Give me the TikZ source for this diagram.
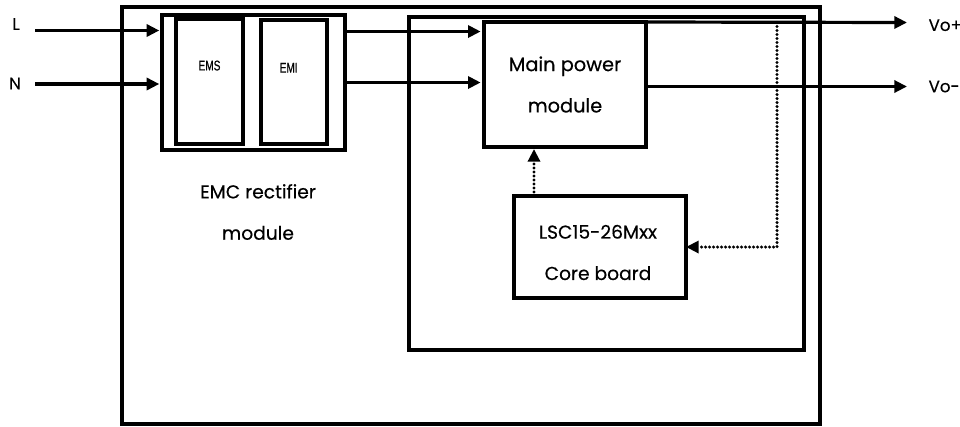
\documentclass[tikz,border=0pt]{standalone}
\usepackage{fontspec}
\setmainfont{Poppins}[FakeBold=0.4]
\newfontfamily\filterfont[FakeStretch=0.72,FakeBold=0.6]{Liberation Sans}
\usetikzlibrary{positioning}
\usetikzlibrary{arrows.meta,calc}

\begin{document}
\begin{tikzpicture}[x=0.75pt,y=-0.75pt,
    line width=2.4pt,
    >={Triangle[length=9.5pt,width=9pt]},
    basic/.style={draw,rectangle,inner sep=0pt,outer sep=0pt},
    block/.style={basic,font=\fontsize{14.5}{31}\selectfont,align=center},
    modtext/.style={inner sep=0pt,font=\fontsize{14}{31}\selectfont,align=center},
    filter/.style={inner sep=0pt,font=\filterfont\fontsize{10.5}{12}\selectfont},
    terminal/.style={inner sep=0pt,font=\fontsize{12.5}{14}\selectfont},
    signal/.style={line width=2.6pt,line cap=round,dash pattern=on 0pt off 3pt},
]
    \useasboundingbox (0,0) rectangle (960,426);
        % housing and the two boards inside it
        \node[basic,minimum width=523.5pt,minimum height=312.75pt] (case) at (471,215.5) {};
        \node[basic,minimum width=296.25pt,minimum height=249.75pt] (board) at (606.5,183.5) {};
        % EMC rectifier module
        \node[basic,minimum width=137.25pt,minimum height=101.25pt] (emc) at (253.5,82.5) {};
            \node[basic,minimum width=50.25pt,minimum height=93.75pt] (ems) at (209.5,81.5) {};
            \node[filter,below=30pt of ems.north] (ems text) {EMS};
            \node[basic,minimum width=49.5pt,minimum height=93pt] (emi) at (294,82) {};
            \node[filter,below=31pt of emi.north,xshift=-4pt] (emi text) {EMI};
        \node[modtext] (emc text) at (258,212) {EMC rectifier\\module};
        % power path
        \node[block,minimum width=121.5pt,minimum height=93.75pt] (main) at (565,84.5) {Main power\\module};
        \node[basic,minimum width=129pt,minimum height=76.5pt] (core) at (600,247) {};
        \node[modtext] (core text) at (598,252.5) {LSC15-26Mxx\\Core board};
%        inputs
        \node[terminal] (L) at (16,24) {L};
        \node[terminal] (N) at (15,83.5) {N};
        \coordinate (l in) at (35,30.5);
        \coordinate (n in) at (35,84);
            \path[draw,->,shorten >=2pt] (l in) -- (emc.west |- l in);
            \path[draw,->,shorten >=2pt] (n in) -- (emc.west |- n in);
            \path[draw,->,shorten >=2.5pt] (emc.east |- 0,31.5) -- (main.west |- 0,31.5);
            \path[draw,->,shorten >=2.5pt] (emc.east |- 0,82.5) -- (main.west |- 0,82.5);
%        outputs
        \coordinate (vo plus) at (907,22.5);
        \coordinate (vo minus) at (907,86.5);
            \path[draw,->] (main.north east) -- (vo plus);
            \path[draw,->] (main.east |- vo minus) -- (vo minus);
        \node[terminal,right=15pt of vo plus,yshift=-2pt] (vop) {Vo+};
        \node[terminal,right=15pt of vo minus] (vom) {Vo-};
%        feedback to core board
        \coordinate (tap) at (777,22.5);
            \draw[signal,->] (tap) |- (core.east);
        \coordinate (fb) at ($(core.north west)+(20,0)$);
            \draw[signal,->,shorten >=1.5pt] (fb) -- (fb |- main.south);
    \end{tikzpicture}
\end{document}
